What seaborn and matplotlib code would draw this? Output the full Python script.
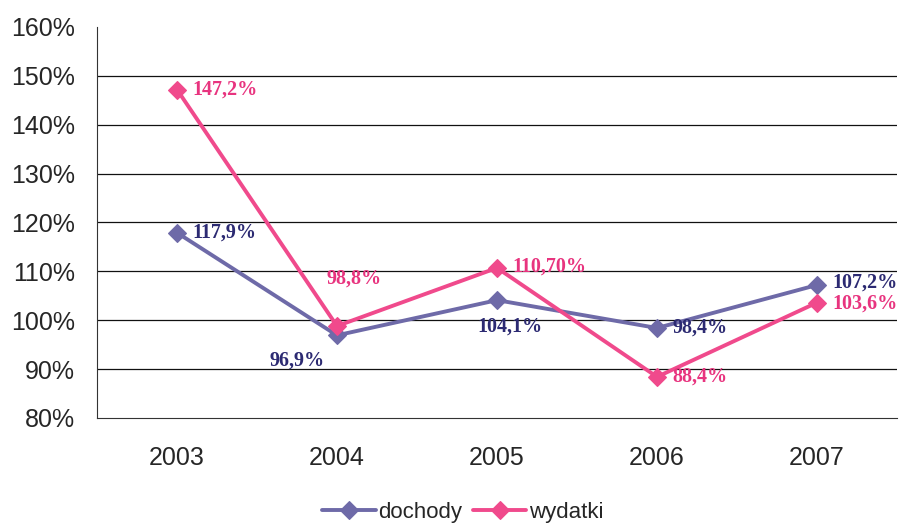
import matplotlib
matplotlib.use("Agg")
import matplotlib.pyplot as plt
import seaborn as sns
import pandas as pd

# dane
lata = ["2003", "2004", "2005", "2006", "2007"]
dochody = [117.9, 96.9, 104.1, 98.4, 107.2]
wydatki = [147.2, 98.8, 110.7, 88.4, 103.6]
etykiety_dochody = ["117,9%", "96,9%", "104,1%", "98,4%", "107,2%"]
etykiety_wydatki = ["147,2%", "98,8%", "110,70%", "88,4%", "103,6%"]

kolory = {"dochody": "#6e6aa8", "wydatki": "#f04a8c"}
kolory_tekstu = {"dochody": "#2c2a72", "wydatki": "#e8347f"}

df = pd.DataFrame({
    "rok": lata * 2,
    "wartosc": dochody + wydatki,
    "seria": ["dochody"] * len(lata) + ["wydatki"] * len(lata),
})

sns.set_style("white")
plt.rcParams["font.family"] = ["Liberation Sans", "DejaVu Sans"]

fig = plt.figure(figsize=(9.02, 5.29), dpi=100)
ax = fig.add_axes([0.1075, 0.21, 0.887, 0.739])

sns.lineplot(data=df, x="rok", y="wartosc", hue="seria", style="seria",
             markers={"dochody": "D", "wydatki": "D"}, dashes=False,
             palette=kolory, linewidth=2.8, markersize=9.5,
             markeredgewidth=0.8, sort=False, ax=ax)

for ln in ax.get_lines():
    ln.set_markeredgecolor(ln.get_color())

# etykiety danych (przesuniecie w punktach)
off_d = [(11, 0, "left", "center"), (-9, -11, "right", "top"),
         (9, -12, "center", "top"), (11, 0, "left", "center"),
         (11, 2, "left", "center")]
off_w = [(11, 0, "left", "center"), (12, 27, "center", "bottom"),
         (11, 1, "left", "center"), (11, 0, "left", "center"),
         (11, -1, "left", "center")]
for i in range(len(lata)):
    dx, dy, ha, va = off_d[i]
    ax.annotate(etykiety_dochody[i], (i, dochody[i]), xytext=(dx, dy),
                textcoords="offset points", ha=ha, va=va,
                color=kolory_tekstu["dochody"], fontsize=14.5,
                fontweight="bold", family="Liberation Serif")
    dx, dy, ha, va = off_w[i]
    ax.annotate(etykiety_wydatki[i], (i, wydatki[i]), xytext=(dx, dy),
                textcoords="offset points", ha=ha, va=va,
                color=kolory_tekstu["wydatki"], fontsize=14.5,
                fontweight="bold", family="Liberation Serif")

ax.set_ylim(80, 160)
ax.set_xlim(-0.5, 4.5)
ax.set_yticks(range(80, 161, 10))
ax.set_yticklabels([f"{v}%" for v in range(80, 161, 10)], fontsize=18)
ax.set_xticks(range(len(lata)))
ax.set_xticklabels(lata, fontsize=18)
ax.set_xticks([0.5, 1.5, 2.5, 3.5, 4.5], minor=True)
ax.tick_params(axis="x", which="major", length=0, pad=20)
ax.tick_params(axis="x", which="minor", length=6, direction="out", color="#222222")
ax.tick_params(axis="y", length=6, direction="out", color="#222222", pad=10)
for v in range(90, 151, 10):
    ax.axhline(v, color="#111111", linewidth=0.9, zorder=0)
ax.set_xlabel("")
ax.set_ylabel("")
for s in ["top", "right"]:
    ax.spines[s].set_visible(False)
ax.spines["left"].set_color("#333333")
ax.spines["bottom"].set_color("#333333")

h, l = ax.get_legend_handles_labels()
ax.get_legend().remove()
fig.legend(h, l, loc="center", bbox_to_anchor=(0.513, 0.032), ncol=2,
           frameon=False, fontsize=16, handlelength=2.4, handletextpad=0.1,
           columnspacing=0.5, borderpad=0.1)

plt.savefig("out.png", dpi=100)
plt.close()
